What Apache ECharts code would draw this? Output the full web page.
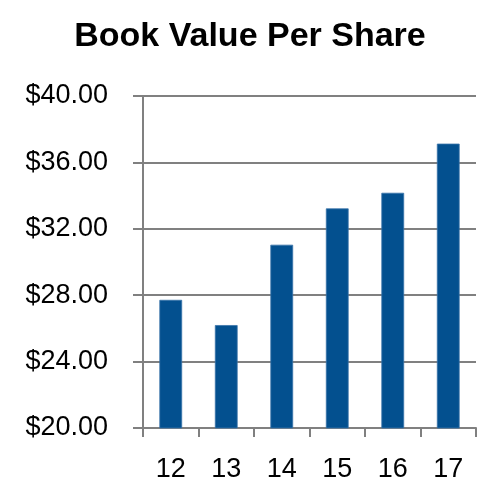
<!DOCTYPE html>
<html>
<head>
<meta charset="utf-8">
<script src="https://cdn.jsdelivr.net/npm/echarts@6/dist/echarts.min.js"></script>
<style>
html,body{margin:0;padding:0;background:#fff;}
#chart{width:500px;height:497px;}
</style>
</head>
<body>
<div id="chart"></div>
<script>
const title = "Book Value Per Share";
const categories = ["12", "13", "14", "15", "16", "17"];
const bookValues = [27.72, 26.20, 31.04, 33.23, 34.17, 37.13];
const yMin = 20, yMax = 40, yStep = 4;

const chart = echarts.init(document.getElementById('chart'));
chart.setOption({
  animation: false,
  title: {
    text: title,
    left: 'center',
    top: 15,
    textStyle: { fontFamily: 'Liberation Sans', fontWeight: 'bold', fontSize: 34, color: '#000' }
  },
  grid: { left: 143, right: 24, top: 96, bottom: 69, containLabel: false },
  xAxis: {
    type: 'category',
    data: categories,
    axisLine: { lineStyle: { color: '#808080', width: 2 } },
    axisTick: { show: true, length: 9, lineStyle: { color: '#808080', width: 2 } },
    axisLabel: { fontFamily: 'Liberation Sans', fontSize: 27, color: '#000', margin: 28 }
  },
  yAxis: {
    type: 'value',
    min: yMin, max: yMax, interval: yStep,
    axisLine: { show: true, lineStyle: { color: '#808080', width: 2 } },
    axisTick: { show: true, length: 10, lineStyle: { color: '#808080', width: 2 } },
    splitLine: { lineStyle: { color: '#808080', width: 2 } },
    axisLabel: {
      fontFamily: 'Liberation Sans', fontSize: 27, color: '#000', margin: 35,
      formatter: v => '$' + v.toFixed(2)
    }
  },
  series: [{
    type: 'bar',
    data: bookValues,
    barWidth: '41%',
    itemStyle: { color: '#03508f', borderColor: '#3a74aa', borderWidth: 0.8 }
  }]
});
</script>
</body>
</html>
